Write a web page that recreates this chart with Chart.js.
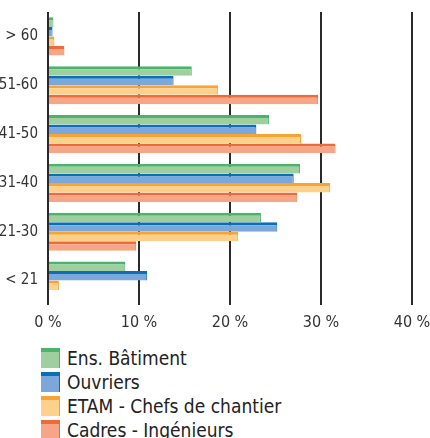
<!DOCTYPE html>
<html>
<head>
<meta charset="utf-8">
<script src="https://cdn.jsdelivr.net/npm/chart.js@4/dist/chart.umd.min.js"></script>
<style>
  html, body { margin: 0; padding: 0; background: #fff; overflow: hidden; }
  body { width: 430px; height: 438px; }
  #wrap { position: relative; width: 430px; height: 340px; }
  .legende { margin: 6px 0 0 41px; font-family: "Liberation Sans Narrow", "DejaVu Sans Condensed", sans-serif; font-size: 19px; color: #222; }
  .leg-item { display: flex; align-items: center; height: 24px; }
  .leg-box { width: 19px; height: 20px; margin-right: 7px; box-sizing: border-box; border-top: 4px solid; border-right: 1px solid; }
</style>
</head>
<body>
<div id="wrap"><canvas id="chart"></canvas></div>
<div class="legende" id="legende"></div>

<script>
/* Répartition par tranche d'âge (%) */
const AGES = ["> 60", "51-60", "41-50", "31-40", "21-30", "< 21"];
const ENS_BATIMENT = [0.6, 15.8, 24.3, 27.7, 23.4, 8.5];
const OUVRIERS = [0.5, 13.8, 22.9, 27.0, 25.2, 10.9];
const ETAM = [0.7, 18.7, 27.8, 31.0, 20.9, 1.2];
const CADRES = [1.8, 29.7, 31.6, 27.4, 9.7, 0];
const TICKS_X = [0, 10, 20, 30, 40];

const SERIES = [
  { label: "Ens. Bâtiment", data: ENS_BATIMENT, fonce: "#4cb36a", clair: "#9fcf9f" },
  { label: "Ouvriers", data: OUVRIERS, fonce: "#0b6fb8", clair: "#7ba7da" },
  { label: "ETAM - Chefs de chantier", data: ETAM, fonce: "#f8a334", clair: "#fdd08c" },
  { label: "Cadres - Ingénieurs", data: CADRES, fonce: "#ee6a39", clair: "#f6a686" },
];

const FONT = "'Liberation Sans Narrow', 'DejaVu Sans Condensed', sans-serif";

new Chart(document.getElementById("chart"), {
  type: "bar",
  data: {
    labels: AGES,
    datasets: SERIES.map((s) => ({
      label: s.label,
      data: s.data,
      backgroundColor: s.clair,
      borderColor: s.fonce,
      borderWidth: { top: 3, right: 1, bottom: 0, left: 0 },
      borderSkipped: false,
      barPercentage: 1,
      categoryPercentage: 0.78,
    })),
  },
  options: {
    indexAxis: "y",
    responsive: true,
    maintainAspectRatio: false,
    animation: false,
    layout: { padding: { top: 12, right: 18, left: 0, bottom: 0 } },
    plugins: { legend: { display: false }, tooltip: { enabled: false } },
    scales: {
      x: {
        min: 0,
        max: 40,
        afterBuildTicks: (axis) => { axis.ticks = TICKS_X.map((v) => ({ value: v })); },
        afterFit: (axis) => {
          axis.height = 35;
          axis.paddingLeft = 0;
          axis.paddingRight = 0;
        },
        grid: { color: "#2a2a2a", lineWidth: 2, drawTicks: false },
        border: { display: false },
        ticks: {
          padding: 8,
          color: "#333",
          font: { family: FONT, size: 16 },
          callback: (v) => v + " %",
        },
      },
      y: {
        afterFit: (axis) => {
          axis.width = 48;
          axis.paddingTop = 0;
          axis.paddingBottom = 0;
        },
        grid: { display: false, drawTicks: false },
        border: { display: false },
        ticks: { padding: 10, color: "#333", font: { family: FONT, size: 15 } },
      },
    },
  },
});

// Légende HTML (une série par ligne)
document.getElementById("legende").innerHTML = SERIES.map(
  (s) => `<div class="leg-item"><span class="leg-box" style="background:${s.clair};border-color:${s.fonce}"></span>${s.label}</div>`
).join("");
</script>
</body>
</html>
